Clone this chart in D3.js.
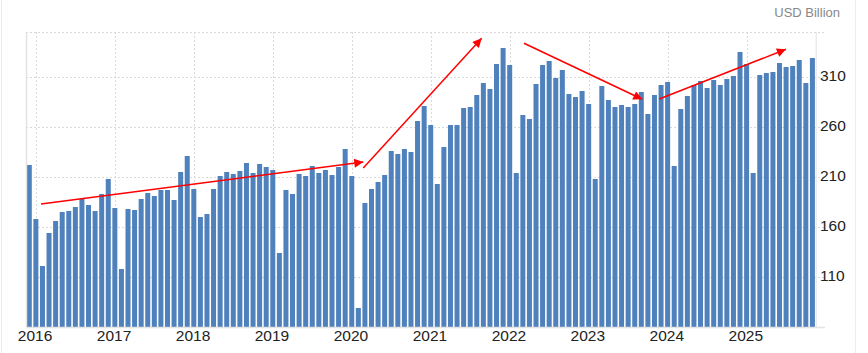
<!DOCTYPE html>
<html>
<head>
<meta charset="utf-8">
<script src="https://cdn.jsdelivr.net/npm/d3@7"></script>
<style>
  html, body { margin: 0; padding: 0; background: #fff; }
  svg { display: block; font-family: "Liberation Sans", Arial, sans-serif; }
</style>
</head>
<body>
<svg id="chart" width="868" height="353"></svg>
<script>
// Monthly values, Dec 2015 .. Nov 2025 (USD Billion)
const startYear = 2015, startMonth = 11; // December 2015 (0-based month)
const values = [
  222,
  168,121,154,166,175,176,180,188,182,176,193,208,
  179,118,178,177,188,194,191,197,197,187,215,231,
  198,170,173,198,211,215,213,216,224,214,223,220,
  217,134,197,193,213,211,221,214,217,212,220,238,
  211,79,184,198,205,212,236,233,238,235,266,281,
  262,203,240,262,262,279,280,292,304,298,323,339,
  322,214,272,268,303,322,326,309,317,293,290,296,
  283,208,301,287,280,282,280,283,295,273,292,302,
  305,221,278,291,302,306,299,307,302,308,311,335,
  323,214,312,314,315,324,320,321,327,304,329
];
const yearTicks = [2016,2017,2018,2019,2020,2021,2022,2023,2024,2025];
const valueTicks = [110,160,210,260,310];
const unitLabel = "USD Billion";
// Trend arrows: [fractional month index, value] start -> end
const arrows = [
  [[1.78,183],[50.75,225]],
  [[50.75,219],[68.74,348.7]],
  [[75.17,343.7],[93.15,287.7]],
  [[95.73,288],[114.98,337.7]]
];

const svg = d3.select("#chart");
const L = 26, R = 815.7, T = 32, B = 327;

const idx = d3.range(values.length);
const x = d3.scaleBand().domain(idx).range([L, R]).paddingInner(0.24).paddingOuter(0.12);
const xc = d3.scaleLinear().domain([0, values.length - 1])
  .range([x(0) + x.bandwidth()/2, x(values.length-1) + x.bandwidth()/2]);
const y = d3.scaleLinear().domain([60, 355]).range([B, T]);

const monthIndex = (yr, m) => (yr - startYear) * 12 + (m - startMonth);

// outer frame lines
svg.append("line").attr("x1",1.5).attr("x2",1.5).attr("y1",0).attr("y2",353).attr("stroke","#ececec");
svg.append("line").attr("x1",855.5).attr("x2",855.5).attr("y1",0).attr("y2",353).attr("stroke","#ececec");

// horizontal gridlines
const grid = svg.append("g");
grid.selectAll("line.h").data(valueTicks.concat([355])).join("line")
  .attr("x1", L).attr("x2", 825)
  .attr("y1", d => Math.round(y(d)) + 0.5).attr("y2", d => Math.round(y(d)) + 0.5)
  .attr("stroke", "#d9d9d9").attr("stroke-dasharray", "2,2");
// vertical gridlines
grid.selectAll("line.v").data(yearTicks).join("line")
  .attr("x1", d => Math.round(xc(monthIndex(d,0))) + 0.5)
  .attr("x2", d => Math.round(xc(monthIndex(d,0))) + 0.5)
  .attr("y1", T).attr("y2", B)
  .attr("stroke", "#d9d9d9").attr("stroke-dasharray", "2,2");

// bars
svg.append("g").selectAll("rect").data(values).join("rect")
  .attr("x", (d,i) => x(i))
  .attr("width", x.bandwidth())
  .attr("y", d => y(d))
  .attr("height", d => B - y(d))
  .attr("fill", "#4f81bd");

// axis frame
svg.append("line").attr("x1", L).attr("x2", 825).attr("y1", B + 0.5).attr("y2", B + 0.5).attr("stroke", "#e3e3e3").attr("stroke-width", 1.5);
svg.append("line").attr("x1", L + 0.5).attr("x2", L + 0.5).attr("y1", T).attr("y2", B).attr("stroke", "#e3e3e3").attr("stroke-width", 1.5);
svg.append("line").attr("x1", R + 0.5).attr("x2", R + 0.5).attr("y1", T).attr("y2", B).attr("stroke", "#e3e3e3").attr("stroke-width", 1);

// x labels
svg.append("g").selectAll("text").data(yearTicks).join("text")
  .attr("x", d => xc(monthIndex(d,0)) - 0.8)
  .attr("y", 341)
  .attr("text-anchor", "middle")
  .attr("font-size", "15.5px")
  .attr("fill", "#222")
  .text(d => d);

// y labels
svg.append("g").selectAll("text").data(valueTicks).join("text")
  .attr("x", 820)
  .attr("y", d => y(d) + 3.5)
  .attr("font-size", "15.5px")
  .attr("fill", "#222")
  .text(d => d);

// unit label
svg.append("text").attr("x", 840).attr("y", 16.5).attr("text-anchor", "end")
  .attr("font-size", "13px").attr("fill", "#888").text(unitLabel);

// arrows
const defs = svg.append("defs");
defs.append("marker").attr("id", "ah").attr("viewBox", "0 0 10 10")
  .attr("refX", 10).attr("refY", 5)
  .attr("markerUnits", "userSpaceOnUse").attr("orient", "auto")
  .attr("markerWidth", 12).attr("markerHeight", 9)
  .append("path").attr("d", "M0,0 L10,5 L0,10 Z").attr("fill", "#ff0000");
svg.append("g").selectAll("line").data(arrows).join("line")
  .attr("x1", d => xc(d[0][0])).attr("y1", d => y(d[0][1]))
  .attr("x2", d => xc(d[1][0])).attr("y2", d => y(d[1][1]))
  .attr("stroke", "#ff0000").attr("stroke-width", 1.5)
  .attr("marker-end", "url(#ah)");
</script>
</body>
</html>
